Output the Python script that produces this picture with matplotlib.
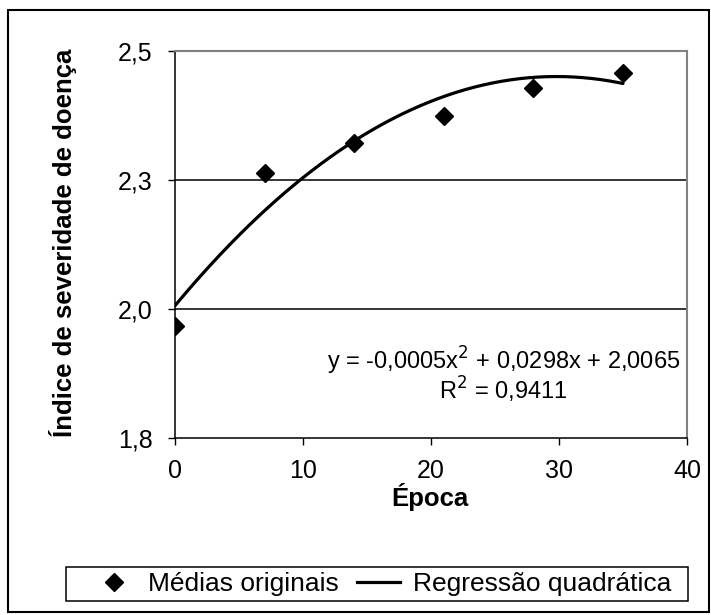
import matplotlib
matplotlib.use("Agg")
import matplotlib.pyplot as plt
import numpy as np
from matplotlib.patches import Rectangle
from matplotlib.lines import Line2D

plt.rcParams['font.family'] = ['Liberation Sans', 'DejaVu Sans']

# Data
epoca = [0, 7, 14, 21, 28, 35]
medias = [1.967, 2.264, 2.322, 2.374, 2.428, 2.457]
coef = [-0.0005, 0.0298, 2.0065]  # printed regression equation
yticks = [1.75, 2.0, 2.25, 2.5]
ytick_labels = ['1,8', '2,0', '2,3', '2,5']
xticks = [0, 10, 20, 30, 40]
xtick_labels = ['0', '10', '20', '30', '40']

fig = plt.figure(figsize=(7.11, 6.15), dpi=100)
W, H = 711, 615
ax = fig.add_axes([175 / W, 1 - 438 / H, (687 - 175) / W, (438 - 51) / H])

xs = np.linspace(epoca[0], epoca[-1], 200)
ys = np.polyval(coef, xs)

for yv in [2.0, 2.25]:
    ax.axhline(yv, color='black', lw=1.1, zorder=1)

ax.plot(xs, ys, color='black', lw=2.3, zorder=3, solid_capstyle='round')
ax.plot(epoca, medias, linestyle='none', marker='D', ms=9, color='black', zorder=4)

ax.set_xlim(0, 40)
ax.set_ylim(1.75, 2.5)
ax.set_yticks(yticks)
ax.set_yticklabels(ytick_labels)
ax.set_xticks(xticks)
ax.set_xticklabels(xtick_labels)
ax.tick_params(axis='both', direction='out', length=5, width=1, labelsize=18, color='black')
ax.tick_params(axis='y', pad=11)
ax.tick_params(axis='x', pad=10)

for s in ['left', 'bottom']:
    ax.spines[s].set_color('black')
    ax.spines[s].set_linewidth(1.1)
for s in ['top', 'right']:
    ax.spines[s].set_color('#808080')
    ax.spines[s].set_linewidth(1.5)

ax.set_xlabel('Época', fontsize=18.5, fontweight='bold')
ax.xaxis.set_label_coords(0.498, -0.115)
ax.set_ylabel('Índice de severidade de doença', fontsize=18.5, fontweight='bold')
ax.yaxis.set_label_coords(-0.191, 0.505)

ax.text(0.641, 0.20, 'y = -0,0005x$^2$ + 0,0298x + 2,0065', transform=ax.transAxes,
        ha='center', va='center', fontsize=17)
ax.text(0.641, 0.124, 'R$^2$ = 0,9411', transform=ax.transAxes,
        ha='center', va='center', fontsize=17)

# Outer border
fig.patches.append(Rectangle((8 / W, 1 - 612 / H), (709 - 8) / W, (612 - 10) / H,
                             transform=fig.transFigure, fill=False, edgecolor='black', lw=1.5))
# Legend frame
fig.patches.append(Rectangle((66 / W, 1 - 601 / H), (688 - 66) / W, (601 - 567) / H,
                             transform=fig.transFigure, fill=False, edgecolor='black', lw=1.1))

handles = [Line2D([], [], linestyle='none', marker='D', ms=9, color='black'),
           Line2D([], [], color='black', lw=2.3)]
leg = fig.legend(handles, ['Médias originais', 'Regressão quadrática'], ncol=2,
                 loc='center', bbox_to_anchor=(382 / W, 1 - 584 / H), fontsize=19,
                 frameon=False, handlelength=1.6, handletextpad=0.5,
                 columnspacing=0.7, borderpad=0.0, borderaxespad=0)

fig.savefig('out.png', dpi=100)
